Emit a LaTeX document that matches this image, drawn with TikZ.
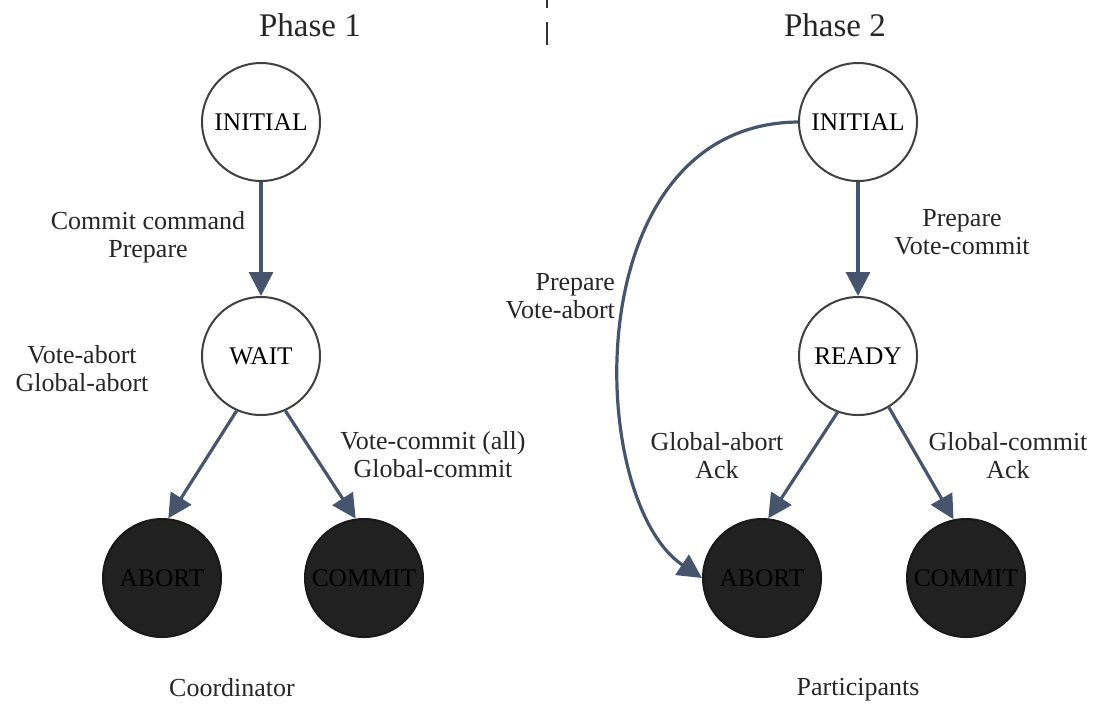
\documentclass[tikz,border=0pt]{standalone}
\usepackage{fontspec}
\setmainfont{Liberation Serif}
\usetikzlibrary{arrows.meta}
\definecolor{arrowblue}{HTML}{46546E}
\begin{document}
\begin{tikzpicture}[x=0.5pt,y=-0.5pt,
  statenode/.style={circle,draw=black!75,line width=1pt,minimum size=59pt,inner sep=0pt,font=\fontsize{12.7}{15}\selectfont},
  endnode/.style={statenode,fill=black!87,draw=black!90,text=black},
  lbl/.style={align=center,text=black!85,font=\fontsize{13}{14}\selectfont},
  arr/.style={-{Triangle[length=12pt,width=12pt]},line width=1.6pt,draw=arrowblue,fill=arrowblue}]
\useasboundingbox (0,0) rectangle (1096,709);
% phases
\node[lbl,font=\fontsize{16.5}{18}\selectfont] (ph1) at (310,25) {Phase 1};
\node[lbl,font=\fontsize{16.5}{18}\selectfont] (ph2) at (835,25) {Phase 2};
\draw[line width=1.2pt,black!80,dash pattern=on 4pt off 7pt on 12pt off 7pt] (547,0) -- (547,45);
% coordinator
\node[statenode] (init1) at (261,122) {INITIAL};
\node[statenode] (wait) at (261,356) {WAIT};
\node[endnode] (abort1) at (162,578) {ABORT};
\node[endnode] (commit1) at (364,578) {COMMIT};
% participants
\node[statenode] (init2) at (858,122) {INITIAL};
\node[statenode] (ready) at (858,356) {READY};
\node[endnode] (abort2) at (762,578) {ABORT};
\node[endnode] (commit2) at (966,578) {COMMIT};
% transitions
\draw[arr] (init1) -- (wait);
\draw[arr] (wait.-114) -- (abort1.84);
\draw[arr] (wait.-66) -- (commit1.98);
\draw[arr] (init2) -- (ready);
\draw[arr] (ready.-110) -- (abort2.84);
\draw[arr] (ready.-59) -- (commit2.102);
\draw[arr,fill=none] (init2.west) .. controls (575,124) and (585,500) .. (abort2.west);
% labels
\node[lbl] (l1) at (148,237) {Commit command\\Prepare};
\node[lbl] (l2) at (82,369) {Vote-abort\\Global-abort};
\node[lbl] (l3) at (433,455) {Vote-commit (all)\\Global-commit};
\node[lbl,align=right,anchor=east] (l4) at (622,296) {Prepare\\Vote-abort};
\node[lbl] (l5) at (962,232) {Prepare\\Vote-commit};
\node[lbl] (l6) at (717,456) {Global-abort\\Ack};
\node[lbl] (l7) at (1008,456) {Global-commit\\Ack};
\node[lbl] (coord) at (232,688) {Coordinator};
\node[lbl] (part) at (858,690) {Participants};
\end{tikzpicture}
\end{document}
